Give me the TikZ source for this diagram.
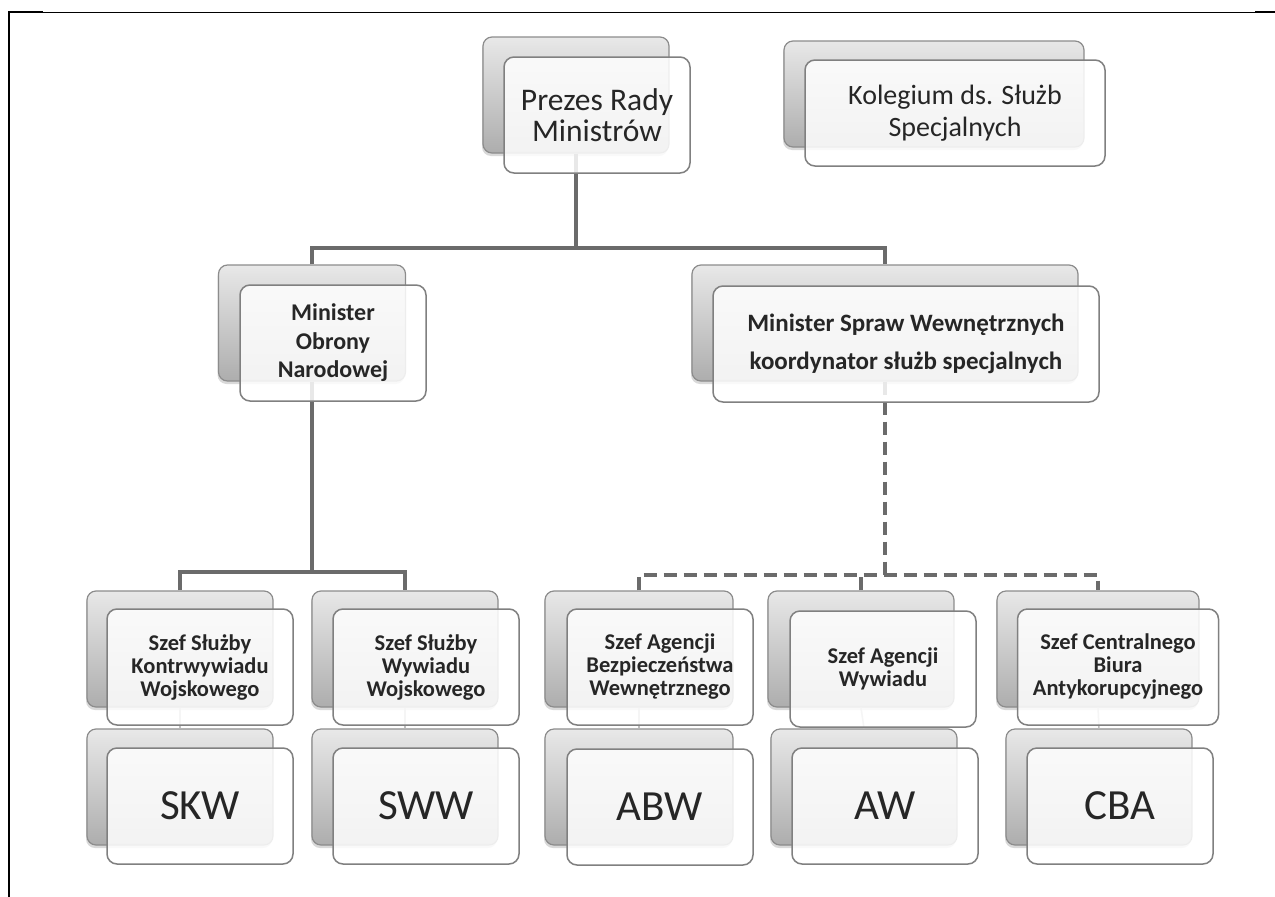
\documentclass[tikz,border=0pt]{standalone}
\usepackage{fontspec}
\setmainfont{Carlito}
\usetikzlibrary{shadows}

\begin{document}
\begin{tikzpicture}[x=1pt,y=-1pt,
    backcard/.style={rectangle,rounded corners=9pt,draw=black!45,line width=1.2pt,
        top color=black!9,bottom color=black!32,inner sep=0pt,
        minimum width=186pt,minimum height=116pt,
        drop shadow={shadow xshift=-1pt,shadow yshift=-3pt,opacity=.3}},
    frontcard/.style={rectangle,rounded corners=10pt,draw=black!50,line width=1.5pt,
        fill=white,fill opacity=.85,text opacity=1,text=black!85,inner sep=0pt,
        minimum width=186pt,minimum height=116pt,align=center},
    szef/.style={frontcard,font=\bfseries\fontsize{22.5}{23}\selectfont},
    skrot/.style={frontcard,font=\fontsize{43}{45}\selectfont},
    link/.style={line width=3.5pt,draw=black!58},
    dlink/.style={link,dash pattern=on 13pt off 7pt},
    sublink/.style={line width=1.5pt,draw=black!25}]
        \useasboundingbox (0,0) rectangle (1275,897);

        % tylne karty
        \node[backcard] (prezesB) at (576,95) {};
        \node[backcard,minimum width=300pt,minimum height=106pt] (kolegiumB) at (934,94) {};
        \node[backcard,minimum width=187pt] (monB) at (312,323) {};
        \node[backcard,minimum width=386pt] (mswB) at (885,323) {};

        \node[backcard] (skwSzefB) at (180,649) {};
        \node[backcard] (swwSzefB) at (405,649) {};
        \node[backcard,minimum width=188pt] (abwSzefB) at (639,649) {};
        \node[backcard] (awSzefB) at (861,649) {};
        \node[backcard,minimum width=202pt] (cbaSzefB) at (1098,649) {};

        \node[backcard] (skwB) at (180,787) {};
        \node[backcard] (swwB) at (405,787) {};
        \node[backcard,minimum width=188pt] (abwB) at (639,787) {};
        \node[backcard] (awB) at (864,787) {};
        \node[backcard] (cbaB) at (1099,787) {};

        % polaczenia
        \coordinate (j1) at (576,248);
        \draw[link] (prezesB.south) -- (j1);
        \draw[link] (monB.north) |- (j1) -| (mswB.north);

        \coordinate (j2) at (312,572);
        \draw[link] (monB.south) -- (j2);
        \draw[link] (skwSzefB.north) |- (j2) -| (swwSzefB.north);

        \coordinate (j3) at (885,575);
        \draw[dlink] (mswB.south) -- (j3);
        \draw[dlink] (abwSzefB.north) |- (j3) -| (cbaSzefB.north);
        \draw[dlink] (awSzefB.north) -- (awSzefB.north |- j3);

        \draw[sublink] (skwSzefB.south) -- (skwB.north);
        \draw[sublink] (swwSzefB.south) -- (swwB.north);
        \draw[sublink] (abwSzefB.south) -- (abwB.north);
        \draw[sublink] (awSzefB.south) -- (awB.north);
        \draw[sublink] (cbaSzefB.south) -- (cbaB.north);

        % przednie karty
        \node[frontcard,font=\fontsize{31.5}{31}\selectfont] (prezes) at (597,115) {Prezes Rady\\Ministrów};
        \node[frontcard,minimum width=300pt,minimum height=106pt,font=\fontsize{28}{32}\selectfont] (kolegium) at (955,113) {Kolegium ds. Służb\\Specjalnych};
        \node[frontcard,font=\bfseries\fontsize{24}{28.5}\selectfont] (mon) at (333,343) {Minister\\Obrony\\Narodowej};
        \node[frontcard,minimum width=386pt,font=\bfseries\fontsize{25}{38}\selectfont] (msw) at (906,344) {Minister Spraw Wewnętrznych\\koordynator służb specjalnych};

        \node[szef] (skwSzef) at (200,667) {Szef Służby\\Kontrwywiadu\\Wojskowego};
        \node[szef] (swwSzef) at (426,667) {Szef Służby\\Wywiadu\\Wojskowego};
        \node[szef] (abwSzef) at (660,667) {Szef Agencji\\Bezpieczeństwa\\Wewnętrznego};
        \node[szef] (awSzef) at (883,669) {Szef Agencji\\Wywiadu};
        \node[szef,minimum width=201pt] (cbaSzef) at (1118,667) {Szef Centralnego\\Biura\\Antykorupcyjnego};

        \node[skrot] (skw) at (200,806) {SKW};
        \node[skrot] (sww) at (426,806) {SWW};
        \node[skrot] (abw) at (660,807) {ABW};
        \node[skrot] (aw) at (885,806) {AW};
        \node[skrot] (cba) at (1120,806) {CBA};

        % ramka
        \draw[line width=1pt] (8,12) -- (1255,12);
        \draw[line width=2.5pt] (8,12) -- (43,12);
        \draw[line width=2.5pt] (1255,12) -- (1275,12);
        \draw[line width=2.5pt] (9,11) -- (9,897);
    \end{tikzpicture}
\end{document}
